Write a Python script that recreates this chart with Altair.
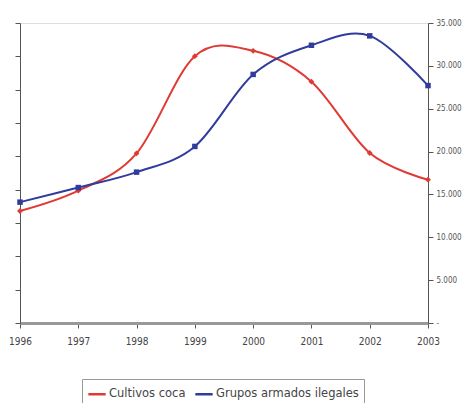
import altair as alt
import pandas as pd

years = [1996, 1997, 1998, 1999, 2000, 2001, 2002, 2003]
coca = [67200, 79400, 101800, 160100, 163300, 144800, 102000, 86000]
grupos = [14100, 15800, 17600, 20600, 29000, 32400, 33500, 27700]
series_names = ["Cultivos coca", "Grupos armados ilegales"]
colors = ["#e03a35", "#2f3c9c"]

df = pd.DataFrame(
    [{"year": y, "value": v, "serie": series_names[0]} for y, v in zip(years, coca)]
    + [{"year": y, "value": v, "serie": series_names[1]} for y, v in zip(years, grupos)]
)

FONT = "DejaVu Sans Condensed, DejaVu Sans, sans-serif"

color = alt.Color(
    "serie:N",
    scale=alt.Scale(domain=series_names, range=colors),
    legend=alt.Legend(
        title=None,
        orient="none",
        legendX=62,
        legendY=356,
        direction="horizontal",
        symbolType="stroke",
        symbolStrokeWidth=2.5,
        symbolSize=300,
        labelFont="DejaVu Sans, sans-serif",
        labelFontSize=11.5,
        labelColor="#444",
        strokeColor="#999",
        padding=5,
        columnPadding=4,
        labelOffset=2,
    ),
)

x = alt.X(
    "year:Q",
    scale=alt.Scale(domain=[1996, 2003], nice=False),
    axis=alt.Axis(
        values=years,
        format="d",
        title=None,
        grid=False,
        domainColor="#999",
        domainWidth=3,
        tickColor="#555",
        tickSize=5,
        labelFont=FONT,
        labelFontSize=10,
        labelColor="#444",
        labelPadding=8,
        labelFlush=False,
    ),
)

base = alt.Chart(df)

red = base.transform_filter(alt.datum.serie == series_names[0]).mark_line(
    interpolate="cardinal",
    strokeWidth=2,
    point=alt.OverlayMarkDef(shape="diamond", size=35, filled=True),
).encode(
    x=x,
    y=alt.Y(
        "value:Q",
        scale=alt.Scale(domain=[0, 180000], nice=False),
        axis=alt.Axis(
            values=list(range(0, 180001, 20000)),
            labels=False,
            title=None,
            grid=False,
            domainColor="#555",
            tickColor="#555",
            tickSize=5,
        ),
    ),
    color=color,
)

blue = base.transform_filter(alt.datum.serie == series_names[1]).mark_line(
    interpolate="cardinal",
    strokeWidth=2,
    point=alt.OverlayMarkDef(shape="square", size=30, filled=True),
).encode(
    x=x,
    y=alt.Y(
        "value:Q",
        scale=alt.Scale(domain=[0, 35000], nice=False),
        axis=alt.Axis(
            orient="right",
            values=list(range(0, 35001, 5000)),
            labelExpr="datum.value == 0 ? '-' : replace(format(datum.value, ',d'), ',', '.')",
            title=None,
            grid=False,
            domainColor="#555",
            tickColor="#555",
            tickSize=5,
            labelFont=FONT,
            labelFontSize=8,
            labelColor="#555",
            labelPadding=3,
        ),
    ),
    color=color,
)

chart = (
    alt.layer(red, blue)
    .resolve_scale(y="independent")
    .properties(
        width=408,
        height=300,
        autosize=alt.AutoSizeParams(type="none"),
        padding={"left": 12, "top": 15, "right": 35, "bottom": 80},
    )
    .configure_view(stroke=None)
    .configure(background="#ffffff")
)

chart.save("out.html", embed_options={"renderer": "svg", "actions": False})
